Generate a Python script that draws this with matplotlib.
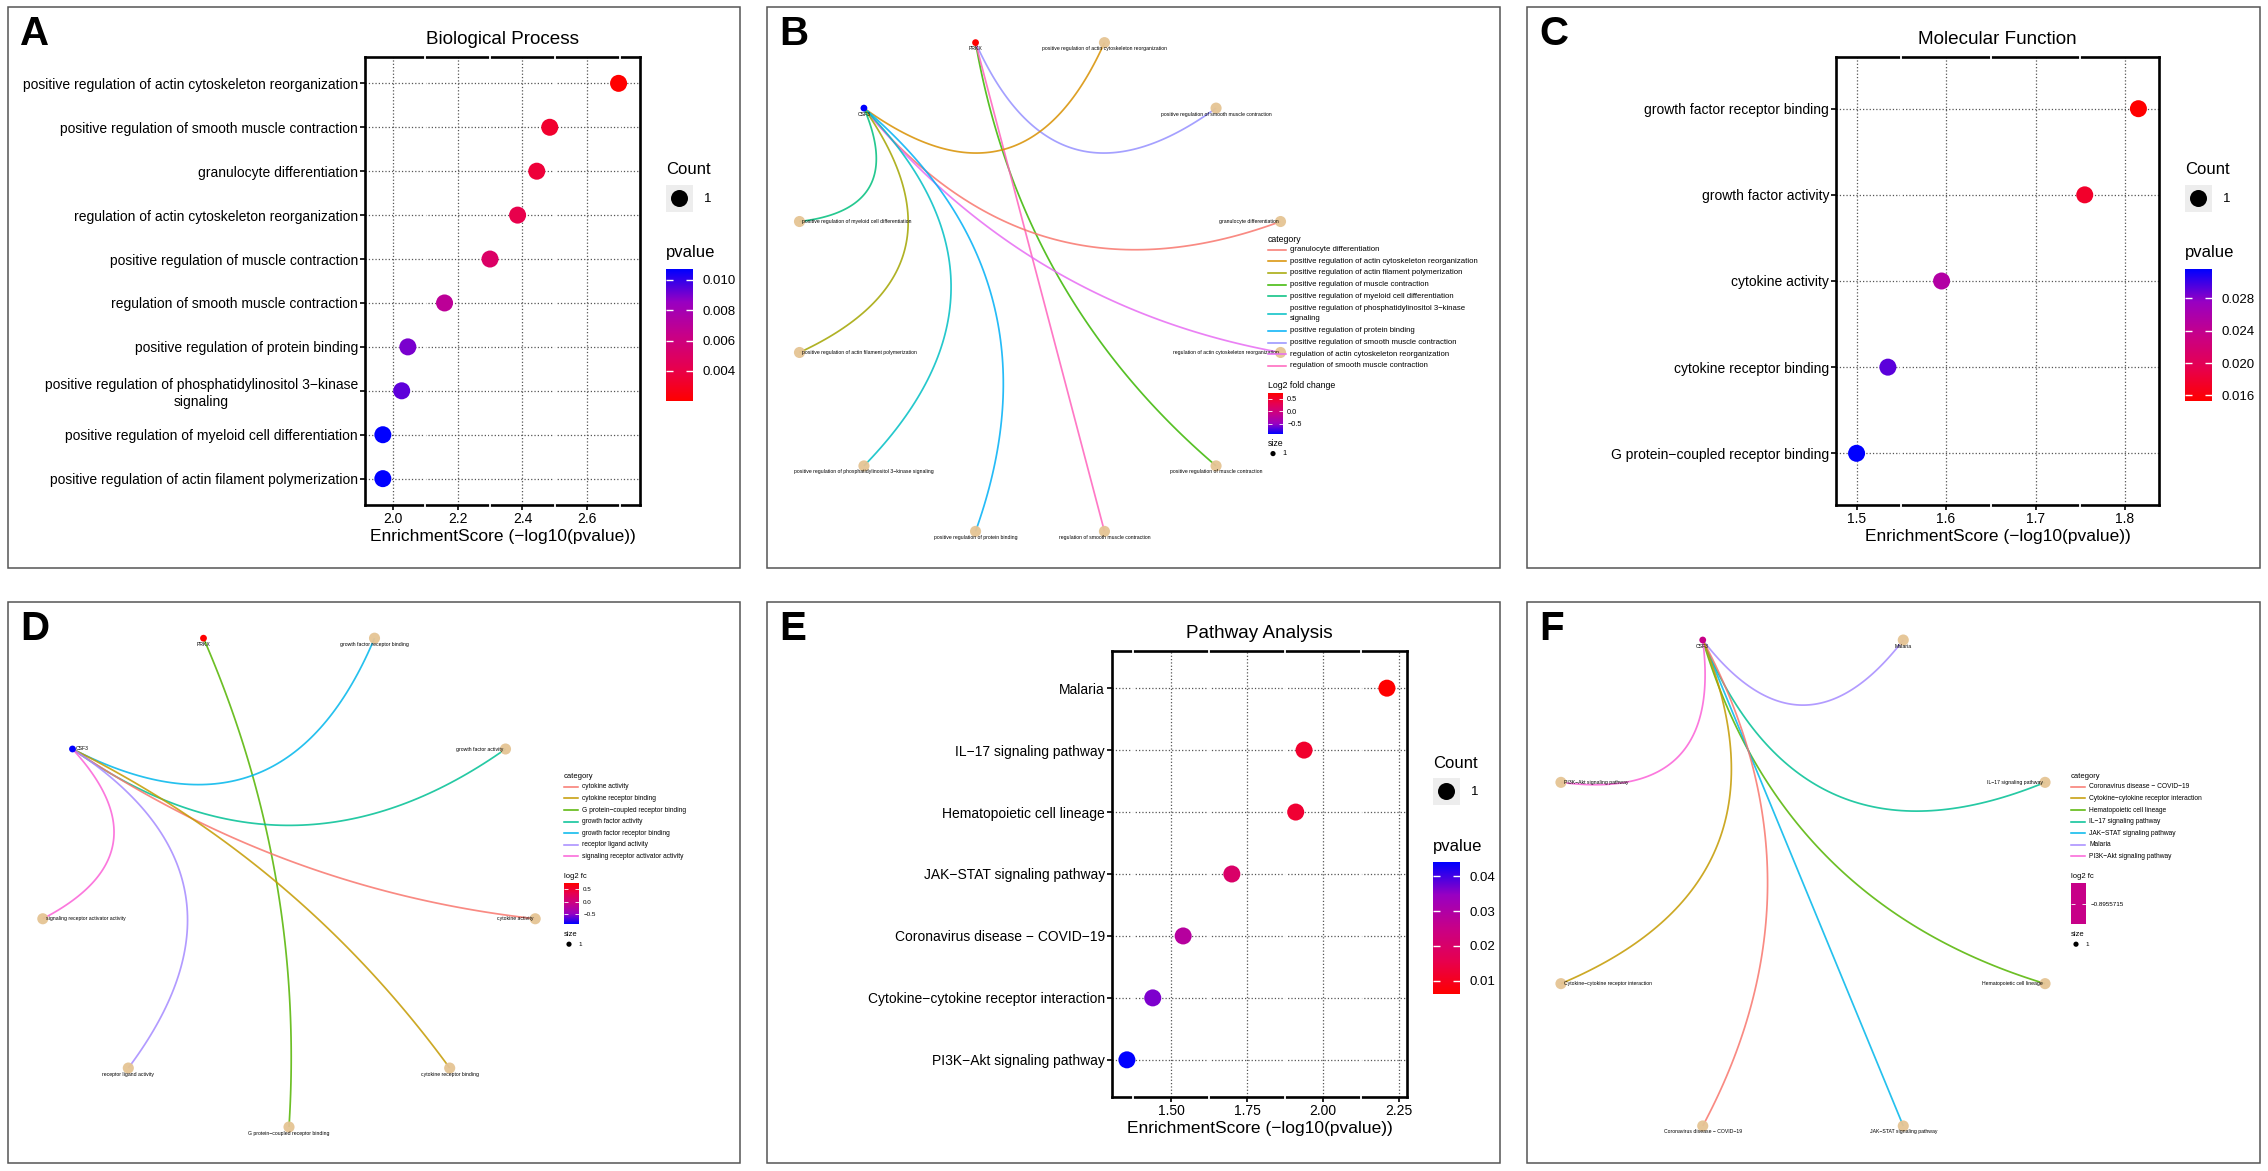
import textwrap
import numpy as np
import matplotlib.pyplot as plt
from matplotlib.colors import LinearSegmentedColormap, Normalize
from matplotlib.patches import Rectangle

plt.rcParams['font.family'] = ['Liberation Sans', 'DejaVu Sans']

# ---------------- data ----------------
bp_terms = ['positive regulation of actin cytoskeleton reorganization',
            'positive regulation of smooth muscle contraction',
            'granulocyte differentiation',
            'regulation of actin cytoskeleton reorganization',
            'positive regulation of muscle contraction',
            'regulation of smooth muscle contraction',
            'positive regulation of protein binding',
            'positive regulation of phosphatidylinositol 3\u2212kinase signaling',
            'positive regulation of myeloid cell differentiation',
            'positive regulation of actin filament polymerization']
bp_score = [2.696, 2.484, 2.444, 2.385, 2.30, 2.16, 2.047, 2.028, 1.970, 1.970]

mf_terms = ['growth factor receptor binding', 'growth factor activity',
            'cytokine activity', 'cytokine receptor binding',
            'G protein\u2212coupled receptor binding']
mf_score = [1.815, 1.755, 1.595, 1.535, 1.500]

kegg_terms = ['Malaria', 'IL\u221217 signaling pathway', 'Hematopoietic cell lineage',
              'JAK\u2212STAT signaling pathway', 'Coronavirus disease \u2212 COVID\u221219',
              'Cytokine\u2212cytokine receptor interaction', 'PI3K\u2212Akt signaling pathway']
kegg_score = [2.21, 1.9375, 1.91, 1.70, 1.54, 1.44, 1.355]

fc_b = {'PRKX': 0.74, 'CSF3': -0.8955715}
fc_f = {'CSF3': -0.8955715}

# network B (GO BP)
b_ring = ['PRKX',
          'positive regulation of actin cytoskeleton reorganization',
          'positive regulation of smooth muscle contraction',
          'granulocyte differentiation',
          'regulation of actin cytoskeleton reorganization',
          'positive regulation of muscle contraction',
          'regulation of smooth muscle contraction',
          'positive regulation of protein binding',
          'positive regulation of phosphatidylinositol 3-kinase signaling',
          'positive regulation of actin filament polymerization',
          'positive regulation of myeloid cell differentiation',
          'CSF3']
b_links = [('PRKX', 'positive regulation of smooth muscle contraction'),
           ('PRKX', 'positive regulation of muscle contraction'),
           ('PRKX', 'regulation of smooth muscle contraction'),
           ('CSF3', 'positive regulation of actin cytoskeleton reorganization'),
           ('CSF3', 'granulocyte differentiation'),
           ('CSF3', 'regulation of actin cytoskeleton reorganization'),
           ('CSF3', 'positive regulation of protein binding'),
           ('CSF3', 'positive regulation of phosphatidylinositol 3-kinase signaling'),
           ('CSF3', 'positive regulation of actin filament polymerization'),
           ('CSF3', 'positive regulation of myeloid cell differentiation')]
b_cats = ['granulocyte differentiation',
          'positive regulation of actin cytoskeleton reorganization',
          'positive regulation of actin filament polymerization',
          'positive regulation of muscle contraction',
          'positive regulation of myeloid cell differentiation',
          'positive regulation of phosphatidylinositol 3-kinase signaling',
          'positive regulation of protein binding',
          'positive regulation of smooth muscle contraction',
          'regulation of actin cytoskeleton reorganization',
          'regulation of smooth muscle contraction']

# network D (GO MF)
d_ring = ['PRKX', 'growth factor receptor binding', 'growth factor activity',
          'cytokine activity', 'cytokine receptor binding',
          'G protein-coupled receptor binding', 'receptor ligand activity',
          'signaling receptor activator activity', 'CSF3']
d_links = [('PRKX', 'G protein-coupled receptor binding'),
           ('CSF3', 'growth factor receptor binding'),
           ('CSF3', 'growth factor activity'),
           ('CSF3', 'cytokine activity'),
           ('CSF3', 'cytokine receptor binding'),
           ('CSF3', 'receptor ligand activity'),
           ('CSF3', 'signaling receptor activator activity')]
d_cats = ['cytokine activity', 'cytokine receptor binding',
          'G protein-coupled receptor binding', 'growth factor activity',
          'growth factor receptor binding', 'receptor ligand activity',
          'signaling receptor activator activity']

# network F (KEGG)
f_ring = ['CSF3', 'Malaria', 'IL-17 signaling pathway', 'Hematopoietic cell lineage',
          'JAK-STAT signaling pathway', 'Coronavirus disease - COVID-19',
          'Cytokine-cytokine receptor interaction', 'PI3K-Akt signaling pathway']
f_links = [('CSF3', t) for t in f_ring[1:]]
f_cats = ['Coronavirus disease - COVID-19', 'Cytokine-cytokine receptor interaction',
          'Hematopoietic cell lineage', 'IL-17 signaling pathway',
          'JAK-STAT signaling pathway', 'Malaria', 'PI3K-Akt signaling pathway']

hue10 = ['#F8766D', '#D89000', '#A3A500', '#39B600', '#00BF7D',
         '#00BFC4', '#00B0F6', '#9590FF', '#E76BF3', '#FF62BC']
hue7 = ['#F8766D', '#C49A00', '#53B400', '#00C094', '#00B6EB', '#A58AFF', '#FB61D7']

# red (low) -> blue (high), Lab-like path as in ggplot
cmap = LinearSegmentedColormap.from_list(
    'rb', ['#FF0000', '#E7004F', '#C80088', '#9900C2', '#0000FF'])

W, H = 2268, 1171
fig = plt.figure(figsize=(W / 100, H / 100), dpi=100)
fig.patch.set_facecolor('white')


def px_axes(x0, y0, x1, y1, **kw):
    return fig.add_axes([x0 / W, 1 - y1 / H, (x1 - x0) / W, (y1 - y0) / H], **kw)


ov = px_axes(0, 0, W, H, zorder=10)
ov.set_xlim(0, W)
ov.set_ylim(H, 0)
ov.axis('off')

# panel frames + letters
rows = [(7, 568), (602, 1163)]
cols = [(8, 740), (767, 1500), (1527, 2260)]
letters = iter('ABCDEF')
for (ya, yb) in rows:
    for (xa, xb) in cols:
        ov.add_patch(Rectangle((xa, ya), xb - xa, yb - ya, fill=False,
                               ec='#555555', lw=1.1))
        ov.text(xa + 12, ya + 8, next(letters), fontsize=29, fontweight='bold',
                va='top', ha='left')


def dotplot(box, terms, score, xlim, xticks, fmt, title, cticks, cfmt):
    x0, y0, x1, y1 = box
    ax = px_axes(x0, y0, x1, y1)
    score = np.asarray(score)
    pv = 10 ** -score
    norm = Normalize(pv.min(), pv.max())
    n = len(terms)
    yy = np.arange(n)[::-1]
    ax.scatter(score, yy, s=150, c=pv, cmap=cmap, norm=norm,
               edgecolors='none', zorder=4)
    ax.set_xlim(*xlim)
    ax.set_ylim(-0.6, n - 0.4)
    ax.set_yticks(yy)
    ax.set_yticklabels([textwrap.fill(t, 58) for t in terms], fontsize=10,
                       multialignment='center')
    ax.set_xticks(xticks)
    ax.set_xticklabels([fmt % t for t in xticks], fontsize=10)
    ax.grid(True, ls=':', color='#555555', lw=0.9)
    ax.set_axisbelow(True)
    for s in ax.spines.values():
        s.set_linewidth(1.9)
    ax.tick_params(length=3.5, width=1.2, pad=1.5)
    step = xticks[1] - xticks[0]
    for m in np.arange(xticks[0] - step / 2, xlim[1], step):
        if xlim[0] < m < xlim[1]:
            ax.axvline(m, ymin=-0.006, ymax=1.006, color='white', lw=1.3,
                       clip_on=False, zorder=2.6)
    ax.set_title(title, fontsize=13.6, pad=9)
    ax.set_xlabel('EnrichmentScore (\u2212log10(pvalue))', fontsize=12.5, labelpad=2)

    # legend
    cy = (y0 + y1) / 2
    lx = x1 + 26
    ov.text(lx, cy - 111, 'Count', fontsize=12, va='center')
    ov.add_patch(Rectangle((lx, cy - 96), 27, 27, color='#EDEDED', lw=0))
    ov.scatter([lx + 13.5], [cy - 82.5], s=150, color='black', edgecolors='none')
    ov.text(lx + 38, cy - 82, '1', fontsize=9.5, va='center')
    ov.text(lx, cy - 28, 'pvalue', fontsize=12, va='center')
    cax = px_axes(lx, cy - 12, lx + 27, cy + 120)
    cax.imshow(np.linspace(0, 1, 256)[:, None], aspect='auto', cmap=cmap,
               origin='lower', extent=[0, 1, pv.min(), pv.max()])
    cax.set_xticks([])
    cax.set_yticks(cticks)
    cax.set_yticklabels([cfmt % t for t in cticks])
    cax.tick_params(direction='in', color='white', length=5, width=1,
                    left=True, right=True, labelleft=False, labelright=True,
                    labelsize=9.5, pad=7)
    for s in cax.spines.values():
        s.set_visible(False)


dotplot((365, 57, 640, 505), bp_terms, bp_score, (1.915, 2.762),
        [2.0, 2.2, 2.4, 2.6], '%.1f', 'Biological Process',
        [0.004, 0.006, 0.008, 0.010], '%.3f')
dotplot((1836, 57, 2159, 505), mf_terms, mf_score, (1.477, 1.838),
        [1.5, 1.6, 1.7, 1.8], '%.1f', 'Molecular Function',
        [0.016, 0.020, 0.024, 0.028], '%.3f')
dotplot((1112, 651, 1407, 1097), kegg_terms, kegg_score, (1.306, 2.276),
        [1.50, 1.75, 2.00, 2.25], '%.2f', 'Pathway Analysis',
        [0.01, 0.02, 0.03, 0.04], '%.2f')


def bend(p, q, k=80):
    # quadratic bezier pulled towards the ring centre
    p, q = np.array(p), np.array(q)
    d = np.arccos(np.clip(p @ q, -1, 1))
    m = (p + q) / 2
    c = m * (1 - 1.4 * np.sin(d / 2))
    t = np.linspace(0, 1, k)[:, None]
    pts = (1 - t) ** 2 * p + 2 * t * (1 - t) * c + t ** 2 * q
    return pts[:, 0], pts[:, 1]


def show(s):
    return s.replace('-', '\u2212')


def network(cx, cy, rx, ry, ring, links, cats, palette, fc):
    ax = px_axes(cx - rx, cy - ry, cx + rx, cy + ry)
    ax.set_xlim(-1, 1)
    ax.set_ylim(-1, 1)
    ax.axis('off')
    colors = dict(zip(cats, palette))
    n = len(ring)
    ang = np.deg2rad(90 + 180 / n - 360 * np.arange(n) / n)
    xy = {nm: (np.cos(a), np.sin(a)) for nm, a in zip(ring, ang)}
    for g, t in links:
        ex, ey = bend(xy[g], xy[t])
        ax.plot(ex, ey, color=colors[t], lw=1.25, alpha=0.85, zorder=1,
                solid_capstyle='butt')
    lo, hi = min(fc.values()), max(fc.values())
    for nm, a in zip(ring, ang):
        x, y = xy[nm]
        if nm in fc:
            f = 0.5 if hi == lo else (hi - fc[nm]) / (hi - lo)
            ax.scatter([x], [y], s=24, color=cmap(f), edgecolors='none', zorder=3,
                       clip_on=False)
        else:
            ax.scatter([x], [y], s=64, color='#E5C494', edgecolors='none', zorder=3,
                       clip_on=False, alpha=0.95)
        c = np.cos(a)
        if c < -0.8:
            ha, off = 'left', (3, 0)
        elif c > 0.8:
            ha, off = 'right', (-2, 0)
        else:
            ha, off = 'center', (0, -6)
        ax.annotate(show(nm), (x, y), xytext=off, textcoords='offset pixels',
                    ha=ha, va='center', fontsize=3.7, zorder=4,
                    annotation_clip=False)
    return colors


def net_legend(x, y, cats, colors, fc_title, fc, fs=4.8, step=11.6, key=14):
    ov.text(x, y, 'category', fontsize=fs + 0.7, va='center')
    yy = y + 5
    for c in cats:
        lab = textwrap.fill(show(c), 58)
        nl = lab.count('\n') + 1
        yc = yy + nl * step / 2
        ov.plot([x, x + key], [yc, yc], color=colors[c], lw=1.1)
        ov.text(x + key + 4, yc, lab, fontsize=fs, va='center', linespacing=1.45)
        yy += nl * step
    yy += 14
    ov.text(x, yy, fc_title, fontsize=fs + 0.7, va='center')
    lo, hi = min(fc.values()), max(fc.values())
    cax = px_axes(x, yy + 7, x + 15, yy + 48)
    cax.set_xticks([])
    for s in cax.spines.values():
        s.set_visible(False)
    if hi == lo:
        cax.imshow([[0.5], [0.5]], aspect='auto', cmap=cmap, vmin=0, vmax=1,
                   extent=[0, 1, lo - 1, lo + 1])
        ticks = [lo]
        labels = ['%.7f' % lo]
    else:
        cax.imshow(np.linspace(1, 0, 256)[:, None], aspect='auto', cmap=cmap,
                   origin='lower', vmin=0, vmax=1, extent=[0, 1, lo, hi])
        ticks = [0.5, 0.0, -0.5]
        labels = ['0.5', '0.0', '-0.5']
    cax.set_yticks(ticks)
    cax.set_yticklabels([l.replace('-', '\u2212') for l in labels])
    cax.tick_params(direction='in', color='white', length=3, width=0.6,
                    left=True, right=True, labelleft=False, labelright=True,
                    labelsize=fs - 0.3, pad=3)
    yy += 58
    ov.text(x, yy, 'size', fontsize=fs + 0.7, va='center')
    ov.scatter([x + 5], [yy + 10], s=14, color='black', edgecolors='none')
    ov.text(x + 14, yy + 10, '1', fontsize=fs - 0.3, va='center')


cb = network(1040, 287, 249, 253, b_ring, b_links, b_cats, hue10, fc_b)
net_legend(1268, 239, b_cats, cb, 'Log2 fold change', fc_b, fs=5.6, key=18)
cd = network(289, 875, 250, 252, d_ring, d_links, d_cats, hue7, fc_b)
net_legend(564, 776, d_cats, cd, 'log2 fc', fc_b)
cf = network(1803, 883, 262, 263, f_ring, f_links, f_cats, hue7, fc_f)
net_legend(2071, 776, f_cats, cf, 'log2 fc', fc_f)

fig.savefig('out.png', dpi=100, facecolor='white')
